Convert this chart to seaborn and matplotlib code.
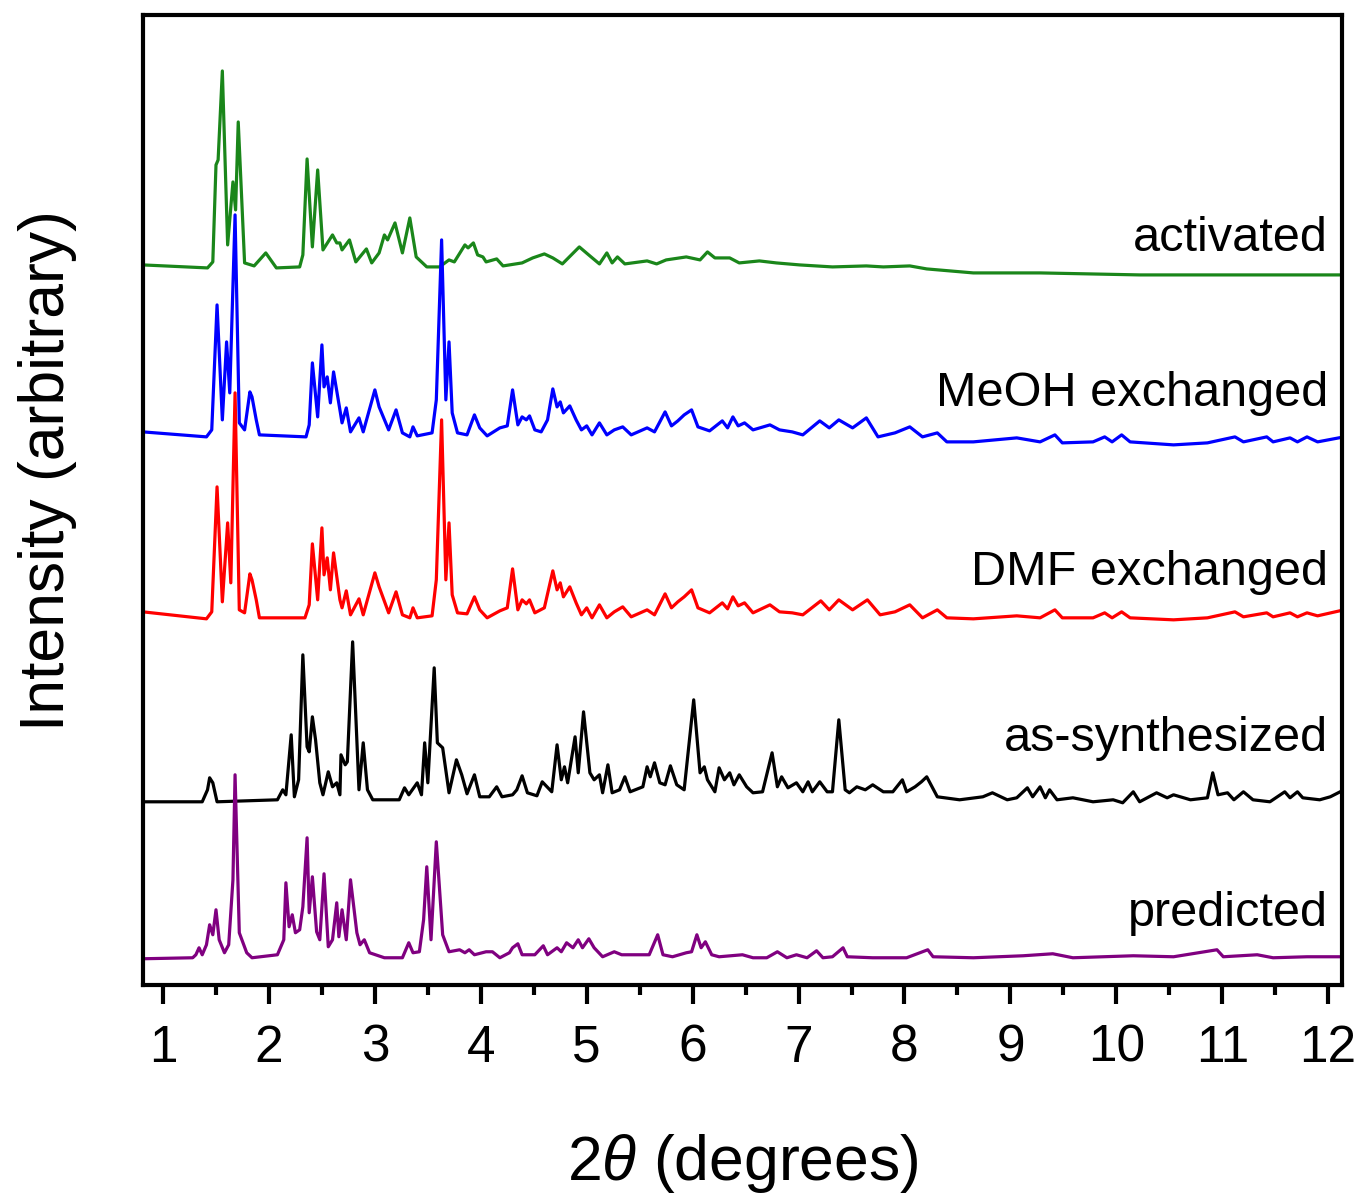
import numpy as np
import pandas as pd
import seaborn as sns
import matplotlib
matplotlib.use('Agg')
from matplotlib import pyplot as plt
from matplotlib.ticker import MultipleLocator

# 2theta / intensity points (intensity = height above each trace's base line)
act_x = [0.81, 1.42, 1.47, 1.50, 1.52, 1.56, 1.61, 1.66, 1.685, 1.71, 1.77, 1.86, 1.97, 2.07, 2.29, 2.32, 2.36,
         2.41, 2.46, 2.51, 2.60, 2.64, 2.67, 2.69, 2.76, 2.82, 2.92, 2.97, 3.04, 3.09, 3.12, 3.19, 3.26, 3.33,
         3.39, 3.49, 3.61, 3.70, 3.75, 3.85, 3.88, 3.93, 3.97, 4.02, 4.05, 4.15, 4.21, 4.39, 4.49, 4.60, 4.68,
         4.77, 4.93, 5.03, 5.12, 5.19, 5.24, 5.29, 5.36, 5.57, 5.66, 5.75, 5.94, 6.07, 6.14, 6.21, 6.35, 6.44,
         6.63, 6.79, 7.01, 7.32, 7.64, 7.80, 8.05, 8.21, 8.65, 9.28, 10.22, 11.17, 12.15]
act_y = [3, 0, 6, 103, 108, 197, 23, 86, 58, 146, 5, 2, 15, 0, 1, 13, 109,
         21, 98, 18, 33, 25, 25, 18, 28, 6, 19, 5, 15, 33, 28, 45, 15, 50,
         11, 1, 1, 8, 6, 23, 20, 25, 13, 11, 6, 9, 2, 5, 10, 14, 10,
         4, 21, 12, 4, 15, 5, 11, 4, 7, 4, 8, 11, 8, 16, 10, 10, 5,
         7, 5, 3, 1, 2, 1, 2, -1, -5, -5, -7, -7, -7]

meoh_x = [0.81, 1.41, 1.46, 1.51, 1.56, 1.60, 1.63, 1.68, 1.72, 1.77, 1.82, 1.84, 1.88, 1.91, 2.35, 2.38, 2.41,
          2.46, 2.50, 2.52, 2.55, 2.58, 2.61, 2.67, 2.69, 2.73, 2.77, 2.85, 2.89, 3.00, 3.04, 3.13, 3.20, 3.26,
          3.33, 3.36, 3.40, 3.54, 3.58, 3.63, 3.67, 3.70, 3.73, 3.78, 3.87, 3.94, 3.99, 4.06, 4.18, 4.25, 4.30,
          4.35, 4.39, 4.43, 4.46, 4.51, 4.57, 4.63, 4.68, 4.72, 4.75, 4.78, 4.84, 4.90, 4.95, 5.00, 5.05, 5.12,
          5.19, 5.26, 5.34, 5.42, 5.57, 5.64, 5.74, 5.80, 5.86, 5.92, 5.99, 6.05, 6.16, 6.28, 6.33, 6.38, 6.43,
          6.49, 6.57, 6.73, 6.82, 6.94, 7.04, 7.20, 7.29, 7.38, 7.51, 7.64, 7.75, 7.91, 8.05, 8.17, 8.31, 8.40,
          8.65, 9.06, 9.28, 9.42, 9.49, 9.78, 9.89, 9.96, 10.05, 10.13, 10.54, 10.86, 11.12, 11.20, 11.42,
          11.48, 11.64, 11.71, 11.80, 11.90, 12.15]
meoh_y = [5, 0, 7, 132, 17, 95, 44, 222, 14, 7, 45, 40, 17, 2, 0, 12, 74,
          20, 92, 50, 60, 34, 65, 27, 14, 29, 5, 19, 5, 47, 30, 7, 27, 4,
          0, 10, 1, 4, 37, 197, 37, 95, 24, 4, 2, 22, 9, 1, 9, 11, 47,
          12, 20, 17, 21, 7, 5, 17, 48, 30, 35, 24, 31, 17, 7, 11, 2, 14,
          2, 7, 10, 2, 9, 5, 25, 11, 16, 22, 27, 10, 6, 16, 9, 20, 11,
          14, 7, 12, 7, 5, 2, 16, 9, 17, 9, 19, 0, 4, 10, 0, 4, -5,
          -5, -1, -5, 2, -6, -5, 0, -5, 2, -5, -8, -6, 0, -5, 0,
          -5, -1, -5, 0, -5, 0]

dmf_x = [0.81, 1.41, 1.46, 1.51, 1.56, 1.61, 1.64, 1.68, 1.72, 1.77, 1.82, 1.84, 1.88, 1.91, 2.34, 2.38, 2.41,
         2.46, 2.50, 2.52, 2.55, 2.58, 2.61, 2.67, 2.69, 2.73, 2.77, 2.85, 2.89, 3.00, 3.04, 3.13, 3.20, 3.26,
         3.33, 3.36, 3.40, 3.54, 3.58, 3.63, 3.67, 3.70, 3.73, 3.78, 3.87, 3.94, 3.99, 4.06, 4.18, 4.25, 4.30,
         4.35, 4.39, 4.43, 4.46, 4.51, 4.60, 4.68, 4.72, 4.75, 4.78, 4.84, 4.90, 4.95, 5.00, 5.05, 5.12, 5.19,
         5.26, 5.34, 5.42, 5.57, 5.64, 5.74, 5.80, 5.86, 5.92, 5.99, 6.05, 6.16, 6.28, 6.33, 6.38, 6.43, 6.49,
         6.57, 6.73, 6.82, 6.94, 7.04, 7.21, 7.29, 7.38, 7.51, 7.65, 7.77, 7.91, 8.05, 8.17, 8.31, 8.40, 8.65,
         9.06, 9.28, 9.42, 9.49, 9.78, 9.89, 9.96, 10.05, 10.13, 10.54, 10.86, 11.12, 11.20, 11.42, 11.48,
         11.64, 11.71, 11.80, 11.90, 12.15]
dmf_y = [6, -1, 6, 131, 16, 95, 35, 225, 8, 5, 44, 38, 18, 0, 0, 13, 74,
         18, 90, 43, 60, 28, 65, 18, 10, 27, 3, 19, 3, 45, 31, 5, 26, 3,
         0, 10, 0, 2, 38, 198, 38, 95, 23, 5, 4, 21, 8, 0, 7, 10, 49,
         8, 18, 14, 18, 5, 10, 47, 28, 35, 21, 31, 15, 3, 10, 0, 13, 0,
         6, 11, 1, 8, 3, 24, 10, 16, 21, 28, 10, 5, 15, 9, 21, 12, 15,
         5, 13, 6, 5, 3, 17, 8, 18, 8, 18, 3, 6, 13, 0, 8, 0, -1,
         2, 0, 8, 0, 0, 5, 0, 6, 0, -2, 0, 6, 1, 5, 1,
         5, 1, 5, 2, 8]

syn_x = [0.81, 1.37, 1.42, 1.44, 1.47, 1.51, 2.08, 2.13, 2.16, 2.21, 2.24, 2.28, 2.32, 2.36, 2.38, 2.41, 2.44,
         2.48, 2.51, 2.56, 2.60, 2.64, 2.67, 2.68, 2.72, 2.74, 2.79, 2.85, 2.89, 2.93, 2.98, 3.23, 3.28, 3.32,
         3.40, 3.44, 3.47, 3.50, 3.56, 3.59, 3.64, 3.70, 3.77, 3.82, 3.87, 3.94, 3.99, 4.08, 4.15, 4.20, 4.30,
         4.34, 4.39, 4.44, 4.53, 4.58, 4.67, 4.72, 4.76, 4.79, 4.82, 4.89, 4.92, 4.97, 5.03, 5.07, 5.12, 5.15,
         5.20, 5.24, 5.31, 5.36, 5.41, 5.53, 5.57, 5.60, 5.64, 5.69, 5.74, 5.79, 5.85, 5.92, 6.01, 6.07, 6.11,
         6.14, 6.21, 6.25, 6.30, 6.35, 6.39, 6.44, 6.51, 6.57, 6.66, 6.75, 6.80, 6.84, 6.90, 6.98, 7.04, 7.09,
         7.13, 7.20, 7.27, 7.32, 7.38, 7.44, 7.48, 7.55, 7.63, 7.70, 7.80, 7.89, 7.98, 8.02, 8.10, 8.16, 8.21,
         8.25, 8.31, 8.52, 8.74, 8.83, 8.97, 9.06, 9.16, 9.21, 9.28, 9.33, 9.37, 9.44, 9.59, 9.78, 9.97, 10.06,
         10.16, 10.22, 10.38, 10.48, 10.54, 10.70, 10.86, 10.91, 10.96, 11.05, 11.11, 11.20, 11.29, 11.45,
         11.59, 11.64, 11.71, 11.76, 11.92, 12.02, 12.15]
syn_y = [-2, -2, 10, 22, 17, -2, 0, 10, 5, 65, 3, 20, 145, 53, 48, 83, 60,
         17, 5, 28, 13, 17, 5, 45, 35, 38, 158, 10, 57, 10, 0, 0, 12, 5,
         17, 5, 57, 17, 132, 57, 52, 7, 40, 25, 6, 25, 3, 3, 13, 3, 5,
         10, 24, 7, 4, 18, 8, 55, 20, 33, 17, 63, 27, 88, 27, 20, 25, 7,
         35, 7, 10, 23, 8, 13, 33, 23, 37, 17, 15, 34, 15, 10, 100, 27, 33,
         20, 8, 32, 20, 27, 15, 25, 13, 7, 8, 47, 13, 23, 12, 17, 8, 18,
         8, 18, 8, 8, 80, 10, 7, 13, 10, 15, 8, 8, 20, 8, 13, 18, 23,
         15, 3, 0, 3, 7, 0, 2, 12, 3, 13, 2, 10, 0, 2, -2, 0, -3,
         8, -2, 7, 2, 5, 0, 2, 27, 5, 7, 0, 8, 0, -2,
         8, 2, 8, 2, 0, 3, 10]

pred_x = [0.81, 1.28, 1.31, 1.34, 1.37, 1.41, 1.44, 1.47, 1.50, 1.53, 1.58, 1.62, 1.66, 1.68, 1.72, 1.79, 1.84,
          2.08, 2.14, 2.16, 2.19, 2.22, 2.25, 2.29, 2.32, 2.36, 2.38, 2.41, 2.45, 2.48, 2.52, 2.56, 2.60, 2.64,
          2.66, 2.69, 2.73, 2.77, 2.83, 2.86, 2.90, 2.95, 3.09, 3.26, 3.32, 3.36, 3.42, 3.46, 3.49, 3.53, 3.58,
          3.64, 3.70, 3.80, 3.85, 3.89, 3.94, 4.05, 4.11, 4.18, 4.27, 4.30, 4.35, 4.39, 4.51, 4.59, 4.63, 4.72,
          4.76, 4.81, 4.87, 4.92, 4.96, 5.02, 5.07, 5.15, 5.26, 5.33, 5.43, 5.59, 5.67, 5.72, 5.81, 5.94, 5.99,
          6.04, 6.08, 6.12, 6.18, 6.25, 6.47, 6.57, 6.70, 6.80, 6.89, 6.98, 7.08, 7.17, 7.23, 7.32, 7.42, 7.46,
          7.70, 8.02, 8.22, 8.27, 8.65, 9.12, 9.40, 9.59, 10.16, 10.54, 10.95, 11.01, 11.33, 11.48, 11.80, 12.15]
pred_y = [-1, 0, 3, 10, 3, 13, 33, 23, 48, 18, 5, 13, 78, 183, 25, 5, 0,
          3, 18, 75, 31, 43, 25, 28, 51, 120, 45, 81, 26, 18, 84, 11, 18, 55,
          21, 48, 18, 78, 25, 13, 18, 5, 0, 0, 15, 5, 6, 38, 91, 18, 116,
          23, 6, 8, 5, 8, 3, 6, 6, 0, 5, 10, 14, 3, 3, 12, 3, 10,
          6, 15, 10, 18, 10, 19, 10, 1, 6, 3, 3, 3, 23, 3, 1, 5, 6,
          23, 10, 16, 3, 1, 3, 0, 0, 6, 0, 3, 0, 7, 0, 1, 10, 1,
          0, 0, 8, 1, 0, 2, 4, 0, 2, 1, 8, 1, 3, 0, 1, 1]

samples = ['activated', 'MeOH exchanged', 'DMF exchanged', 'as-synthesized', 'predicted']
colors = ['#1a861a', '#0000ff', '#ff0000', '#000000', '#800080']
offsets = [717, 548, 367, 185, 27]
label_y = [746, 591, 412, 246, 71]

frames = []
for name, xs, ys, off in zip(samples, [act_x, meoh_x, dmf_x, syn_x, pred_x],
                             [act_y, meoh_y, dmf_y, syn_y, pred_y], offsets):
    frames.append(pd.DataFrame({'2theta': xs, 'I': np.array(ys) + off, 'sample': name}))
df = pd.concat(frames, ignore_index=True)

sns.set_style('ticks')
plt.rcParams['font.family'] = ['Liberation Sans', 'DejaVu Sans']
plt.rcParams['mathtext.fontset'] = 'custom'
plt.rcParams['mathtext.it'] = 'Liberation Sans:italic'
plt.rcParams['mathtext.rm'] = 'Liberation Sans'
plt.rcParams['text.color'] = 'black'
plt.rcParams['axes.labelcolor'] = 'black'
plt.rcParams['xtick.color'] = 'black'
plt.rcParams['axes.edgecolor'] = 'black'

fig = plt.figure(figsize=(13.61, 11.98), dpi=100)
ax = fig.add_axes([0.105, 0.178, 0.881, 0.8095])

sns.lineplot(data=df, x='2theta', y='I', hue='sample', palette=dict(zip(samples, colors)),
             sort=False, estimator=None, legend=False, linewidth=2.3, ax=ax)

for name, ly in zip(samples, label_y):
    ax.text(12.0, ly, name, ha='right', va='center', fontsize=35, color='black')

ax.set_xlim(0.81, 12.13)
ax.set_ylim(0, 970)
ax.xaxis.set_major_locator(MultipleLocator(1))
ax.xaxis.set_minor_locator(MultipleLocator(0.5))
ax.set_yticks([])
ax.tick_params(axis='x', which='major', direction='out', length=14, width=3, labelsize=37, pad=14,
               colors='black')
ax.tick_params(axis='x', which='minor', direction='out', length=7, width=3, colors='black')
for s in ax.spines.values():
    s.set_linewidth(3)
    s.set_color('black')
    s.set_visible(True)

ax.set_xlabel(r'$\mathit{2\theta}$ (degrees)', fontsize=45)
ax.set_ylabel('Intensity (arbitrary)', fontsize=45)
ax.xaxis.set_label_coords(0.5, -0.152)
ax.yaxis.set_label_coords(-0.055, 0.53)

plt.savefig('out.png', dpi=100)
